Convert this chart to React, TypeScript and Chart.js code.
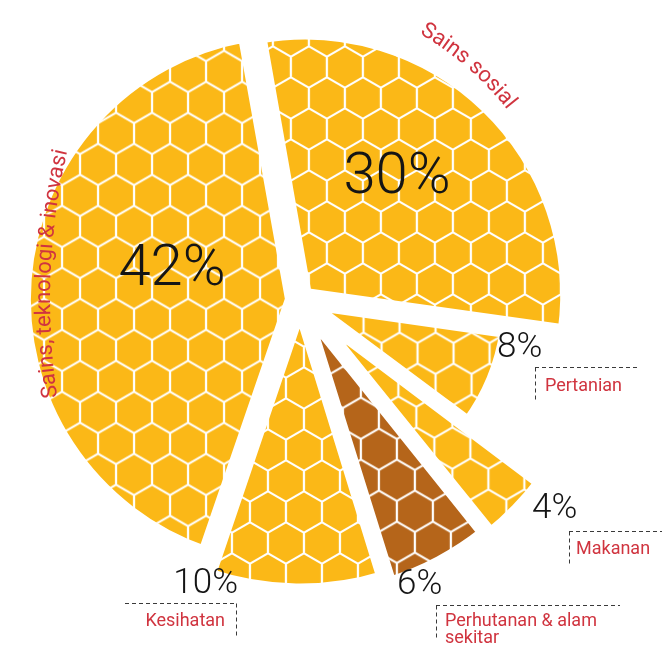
import React, { useEffect, useRef } from 'react';
import { Chart, registerables } from 'chart.js';

Chart.register(...registerables);

// ---- data ----
const CATEGORIES = [
  'Sains sosial',
  'Pertanian',
  'Makanan',
  'Perhutanan & alam sekitar',
  'Kesihatan',
  'Sains, teknologi & inovasi',
];
const SHARES = [30, 8, 4, 6, 10, 42];
const PERCENT_TEXT = SHARES.map((v) => `${v}%`);
const CAPTION_LINES = [
  ['Sains sosial'],
  ['Pertanian'],
  ['Makanan'],
  ['Perhutanan & alam', 'sekitar'],
  ['Kesihatan'],
  ['Sains, teknologi & inovasi'],
];

// ---- styles ----
const YELLOW = '#FBB817';
const BROWN = '#B5651A';
const RED = '#D0343F';
const INK = '#151515';
const SLICE_COLORS = [YELLOW, YELLOW, YELLOW, BROWN, YELLOW, YELLOW];
const SLICE_RADIUS = [262, 200, 292, 288, 282, 264];
const SLICE_OFFSET = [28, 24, 24, 24, 24, 32];
const FONT = 'Roboto, "Open Sans", "Liberation Sans", sans-serif';

// text layout (pixel positions of annotations)
const PCT_LAYOUT = [
  { x: 397, y: 193, align: 'center', size: 58 },
  { x: 497, y: 357, align: 'left', size: 35 },
  { x: 532, y: 518, align: 'left', size: 35 },
  { x: 397, y: 594, align: 'left', size: 35 },
  { x: 238, y: 593, align: 'right', size: 35 },
  { x: 172, y: 285, align: 'center', size: 58 },
];
// boxed captions: horizontal dashed line (x0..x1 at y), vertical dashed at vx (y..vy1)
const BOX_LAYOUT: any[] = [
  null,
  { x0: 535, x1: 637, y: 367.5, vx: 535.5, vy1: 402, tx: 545, ty: 391, align: 'left' },
  { x0: 569, x1: 662, y: 531.5, vx: 569.5, vy1: 566, tx: 576, ty: 554, align: 'left' },
  { x0: 436, x1: 620, y: 605.5, vx: 436.5, vy1: 640, tx: 445, ty: 626, align: 'left' },
  { x0: 125, x1: 236, y: 603.5, vx: 236.5, vy1: 638, tx: 225, ty: 626, align: 'right' },
  null,
];
// curved captions
const ARC_LAYOUT: any[] = [
  { cx: 265, cy: 300, r: 308, mid: 41, size: 22 },
  null, null, null, null,
  { cx: 700, cy: 300, r: 650, mid: 272.3, size: 22 },
];

function hexPattern(color: string): CanvasPattern {
  const W = 36;
  const H = 62;
  const c = document.createElement('canvas');
  c.width = W;
  c.height = H;
  const g = c.getContext('2d')!;
  const s = W / Math.sqrt(3) - 1.3;
  const centers = [
    [0, 0], [W, 0], [0, H], [W, H], [W / 2, H / 2],
  ];
  g.fillStyle = color;
  for (const [cx, cy] of centers) {
    g.beginPath();
    for (let k = 0; k < 6; k++) {
      const a = Math.PI / 6 + (k * Math.PI) / 3;
      const px = cx + s * Math.cos(a);
      const py = cy + s * Math.sin(a);
      if (k === 0) g.moveTo(px, py);
      else g.lineTo(px, py);
    }
    g.closePath();
    g.fill();
  }
  const ctx = document.createElement('canvas').getContext('2d')!;
  const pat = ctx.createPattern(c, 'repeat')!;
  try {
    pat.setTransform(new DOMMatrix().translate(16, 10));
  } catch (e) {
    /* ignore */
  }
  return pat;
}

function drawArcText(
  ctx: CanvasRenderingContext2D,
  text: string,
  cx: number,
  cy: number,
  r: number,
  midDeg: number,
  font: string,
  color: string
) {
  ctx.save();
  ctx.font = font;
  ctx.fillStyle = color;
  ctx.textAlign = 'center';
  ctx.textBaseline = 'alphabetic';
  const total = ctx.measureText(text).width;
  let a = (midDeg * Math.PI) / 180 - total / 2 / r;
  for (const ch of text) {
    const w = ctx.measureText(ch).width;
    const th = a + w / 2 / r;
    ctx.save();
    ctx.translate(cx + r * Math.sin(th), cy - r * Math.cos(th));
    ctx.rotate(th);
    ctx.fillText(ch, 0, 0);
    ctx.restore();
    a += w / r;
  }
  ctx.restore();
}

const sliceRadiusPlugin = {
  id: 'sliceRadius',
  afterDatasetsUpdate(chart: any) {
    const meta = chart.getDatasetMeta(0);
    meta.data.forEach((arc: any, i: number) => {
      arc.outerRadius = SLICE_RADIUS[i];
    });
  },
};

const annotationPlugin = {
  id: 'annotations',
  afterDraw(chart: any) {
    const ctx: CanvasRenderingContext2D = chart.ctx;
    ctx.save();
    // percentages
    PERCENT_TEXT.forEach((t, i) => {
      const p = PCT_LAYOUT[i];
      ctx.font = `300 ${p.size}px ${FONT}`;
      ctx.fillStyle = INK;
      ctx.textAlign = p.align as CanvasTextAlign;
      ctx.textBaseline = 'alphabetic';
      ctx.fillText(t, p.x, p.y);
    });
    // boxed captions
    CAPTION_LINES.forEach((lines, i) => {
      const b = BOX_LAYOUT[i];
      if (!b) return;
      ctx.save();
      ctx.strokeStyle = '#3a3a3a';
      ctx.lineWidth = 1;
      ctx.setLineDash([4, 3]);
      ctx.beginPath();
      ctx.moveTo(b.x0, b.y);
      ctx.lineTo(b.x1, b.y);
      ctx.moveTo(b.vx, b.y);
      ctx.lineTo(b.vx, b.vy1);
      ctx.stroke();
      ctx.restore();
      ctx.font = `400 18px ${FONT}`;
      ctx.fillStyle = RED;
      ctx.textAlign = b.align;
      lines.forEach((ln, k) => ctx.fillText(ln, b.tx, b.ty + k * 17));
    });
    // curved captions
    CAPTION_LINES.forEach((lines, i) => {
      const a = ARC_LAYOUT[i];
      if (!a) return;
      drawArcText(ctx, lines[0], a.cx, a.cy, a.r, a.mid, `400 ${a.size}px ${FONT}`, RED);
    });
    ctx.restore();
  },
};

export default function App() {
  const ref = useRef<HTMLCanvasElement>(null);
  useEffect(() => {
    const canvas = ref.current!;
    const patterns: Record<string, CanvasPattern> = {
      [YELLOW]: hexPattern(YELLOW),
      [BROWN]: hexPattern(BROWN),
    };
    const chart = new Chart(canvas, {
      type: 'pie',
      data: {
        labels: CATEGORIES,
        datasets: [
          {
            data: SHARES,
            backgroundColor: SLICE_COLORS.map((c) => patterns[c]) as any,
            borderColor: '#ffffff',
            borderWidth: 14,
            offset: SLICE_OFFSET,
            hoverOffset: 0,
          } as any,
        ],
      },
      options: {
        responsive: false,
        animation: false,
        devicePixelRatio: 1,
        rotation: -10,
        radius: 260,
        events: [],
        layout: { padding: { left: 0, right: 62, top: 0, bottom: 45 } },
        plugins: { legend: { display: false }, tooltip: { enabled: false } },
      } as any,
      plugins: [sliceRadiusPlugin, annotationPlugin],
    });
    return () => chart.destroy();
  }, []);
  return (
    <div style={{ position: 'fixed', left: 0, top: 0, width: 662, height: 645, background: '#fff' }}>
      <canvas ref={ref} width={662} height={645} style={{ display: 'block', width: 662, height: 645 }} />
    </div>
  );
}
